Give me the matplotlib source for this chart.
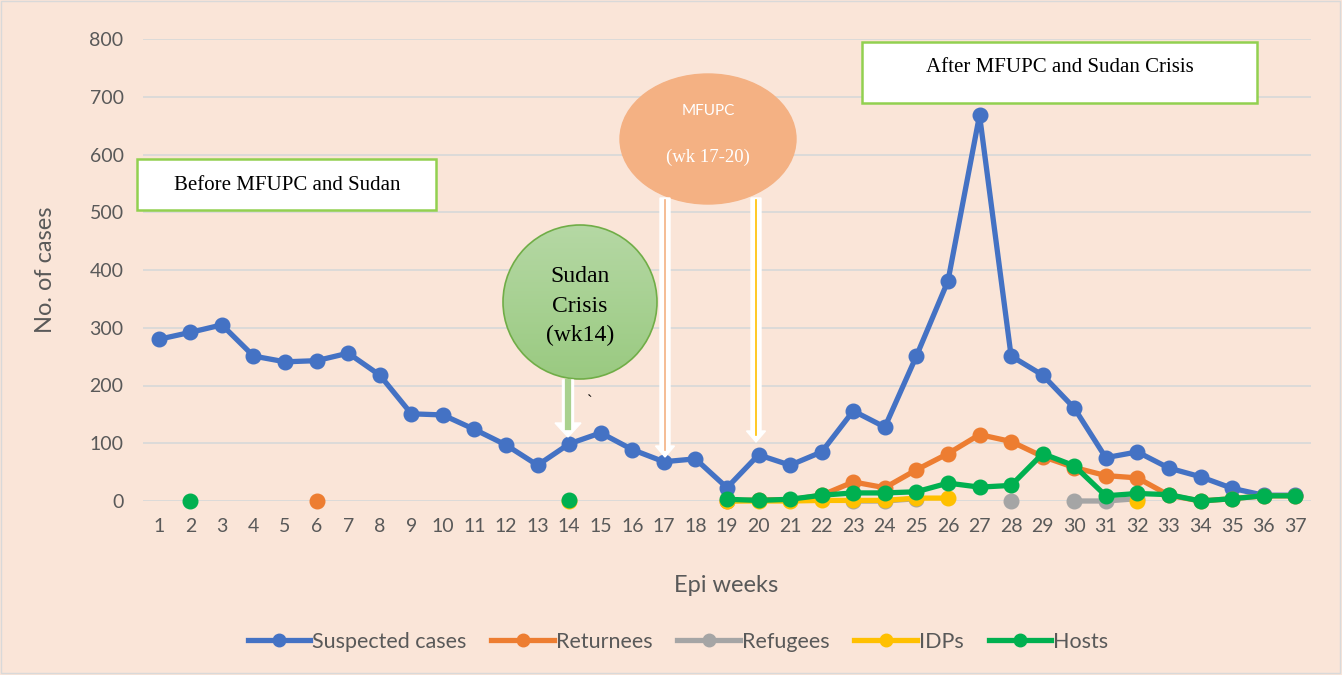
import numpy as np
import matplotlib.pyplot as plt
import matplotlib.patches as mpatches
import matplotlib.transforms as mtransforms
from matplotlib.lines import Line2D
from matplotlib.colors import LinearSegmentedColormap

nan = np.nan
weeks = list(range(1, 38))

suspected = [280, 292, 305, 251, 241, 243, 256, 218, 151, 149, 124, 97, 62, 99, 118, 89, 68, 73,
             23, 80, 62, 85, 156, 128, 251, 381, 668, 251, 218, 161, 75, 85, 57, 42, 22, 10, 10]
returnees = [nan] * 5 + [0] + [nan] * 12 + \
            [0, 2, 2, 10, 33, 23, 54, 82, 115, 103, 77, 58, 44, 40, 10, 0, 4, 9, 9]
refugees = [nan] * 22 + [0, 0, 4, nan, nan, 0, nan, 0, 0, 4, nan, nan, nan, nan, nan]
idps = [nan] * 13 + [0] + [nan] * 4 + [0, 0, 0, 1, 1, 1, 5, 5] + [nan] * 5 + [0] + [nan] * 5
hosts = [nan, 0] + [nan] * 11 + [2] + [nan] * 4 + \
        [3, 1, 3, 10, 14, 14, 16, 31, 24, 27, 82, 61, 9, 13, 11, 0, 4, 9, 9]

series = [("Suspected cases", suspected, "#4472C4"),
          ("Returnees", returnees, "#ED7D31"),
          ("Refugees", refugees, "#A5A5A5"),
          ("IDPs", idps, "#FFC000"),
          ("Hosts", hosts, "#00B050")]

W, H = 1342, 675
bg = "#FAE5D8"
txt = "#595959"

fig = plt.figure(figsize=(W / 100, H / 100), dpi=100, facecolor=bg)
# pixel coordinates, y downwards
px = mtransforms.Affine2D().scale(1 / W, -1 / H).translate(0, 1) + fig.transFigure

ax = fig.add_axes([143 / W, 1 - 501 / H, (1311 - 143) / W, (501 - 39) / H])
ax.set_facecolor(bg)
for name, vals, col in series:
    ax.plot(weeks, np.array(vals, dtype=float), color=col, lw=3.8, marker="o",
            markersize=10.5, clip_on=False, label=name, zorder=3)

ax.set_xlim(0.5, 37.5)
ax.set_ylim(0, 800)
ax.set_xticks(weeks)
ax.set_yticks(range(0, 801, 100))
ax.grid(axis="y", color="#D9D9D9", lw=1.3, zorder=0)
ax.set_axisbelow(True)
for s in ax.spines.values():
    s.set_visible(False)
ax.tick_params(length=0, labelsize=14, labelcolor=txt)
ax.tick_params(axis="y", pad=14)
ax.tick_params(axis="x", pad=12)
for lab in ax.get_xticklabels() + ax.get_yticklabels():
    lab.set_family("Lato")

fig.text(45 / W, 1 - 270 / H, "No. of cases", rotation=90, ha="center", va="center",
         fontsize=17, color=txt, family="Lato")
fig.text(726 / W, 1 - 585 / H, "Epi weeks", ha="center", va="center",
         fontsize=17, color=txt, family="Lato")

handles = [Line2D([], [], color=c, lw=3.8, marker="o", markersize=9) for _, _, c in series]
leg = fig.legend(handles, [n for n, _, _ in series], loc="center", ncol=5,
                 bbox_to_anchor=(678 / W, 1 - 642 / H), frameon=False,
                 handlelength=2.9, handletextpad=0.1, columnspacing=1.15,
                 prop={"family": "Lato", "size": 15.5})
for t in leg.get_texts():
    t.set_color(txt)

# text boxes
fig.patches.append(mpatches.Rectangle((137, 159), 299, 51, transform=px, facecolor="white",
                                      edgecolor="#92D050", lw=1.8))
fig.text(287 / W, 1 - 185 / H, "Before MFUPC and Sudan", ha="center", va="center",
         fontsize=15, family="Liberation Serif", color="black")
fig.patches.append(mpatches.Rectangle((862, 42), 395, 61, transform=px, facecolor="white",
                                      edgecolor="#92D050", lw=1.8))
fig.text(1060 / W, 1 - 67 / H, "After MFUPC and Sudan Crisis", ha="center", va="center",
         fontsize=15, family="Liberation Serif", color="black")

# Sudan crisis circle with gradient
circ = mpatches.Circle((580, 302), 77, transform=px, facecolor="none",
                       edgecolor="#70AD47", lw=1.2, zorder=5)
fig.patches.append(circ)
gax = fig.add_axes([0, 0, 1, 1])
gax.set_axis_off()
gax.set_xlim(0, W)
gax.set_ylim(H, 0)
grad = np.linspace(0, 1, 100)[:, None]
cmap = LinearSegmentedColormap.from_list("g", ["#B5D8A4", "#9ACA81"])
im = gax.imshow(grad, cmap=cmap, extent=(503, 657, 379, 225), aspect="auto")
clip = mpatches.Circle((580, 302), 77, transform=gax.transData)
im.set_clip_path(clip)
gax.set_zorder(4)
gax.patch.set_visible(False)
for i, line in enumerate(["Sudan", "Crisis", "(wk14)"]):
    fig.text(580 / W, 1 - (277 + 29 * i) / H, line, ha="center", va="center",
             fontsize=17, family="Liberation Serif", color="black", zorder=6)

# MFUPC ellipse
fig.patches.append(mpatches.Ellipse((708, 139), 176, 130, transform=px,
                                    facecolor="#F4B183", edgecolor="#F4B183"))
fig.text(708 / W, 1 - 111 / H, "MFUPC", ha="center", va="center", fontsize=11,
         family="Lato", color="white")
fig.text(708 / W, 1 - 157 / H, "(wk 17-20)", ha="center", va="center", fontsize=13.5,
         family="Liberation Serif", color="white")

# arrows
def block_arrow(x, y0, y1, head_start, shaft_w, head_w, inner_col, inner_w):
    pts = [(x - shaft_w / 2, y0), (x + shaft_w / 2, y0), (x + shaft_w / 2, head_start),
           (x + head_w / 2, head_start), (x, y1), (x - head_w / 2, head_start),
           (x - shaft_w / 2, head_start)]
    fig.patches.append(mpatches.Polygon(pts, closed=True, transform=px, facecolor="white",
                                        edgecolor="white", lw=1, zorder=7))
    fig.lines.append(Line2D([x, x], [y0 + 2, head_start + 4], transform=px,
                            color=inner_col, lw=inner_w, zorder=8))

block_arrow(568, 380, 437, 423, 11, 26, "#A9D18E", 4.5)
block_arrow(665, 198, 457, 446, 10, 19, "#F4B183", 1.2)
block_arrow(756, 198, 442, 431, 10, 19, "#FFC000", 1.2)

fig.text(590 / W, 1 - 402 / H, "`", ha="center", va="center", fontsize=12,
         family="Liberation Serif", color="black")

# outer frame
fig.patches.append(mpatches.Rectangle((1, 1), W - 3, H - 3, transform=px, facecolor="none",
                                      edgecolor="#D9D9D9", lw=1))

fig.savefig("out.png", dpi=100, facecolor=bg)
